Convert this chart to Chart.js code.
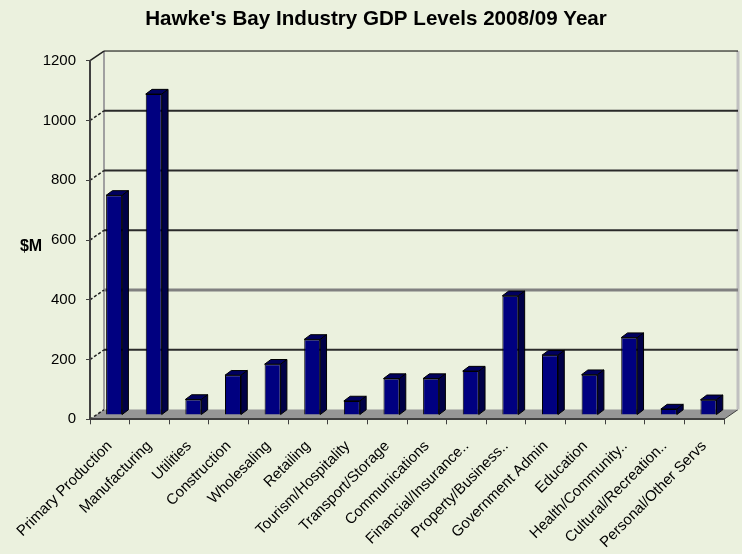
<!DOCTYPE html>
<html>
<head>
<meta charset="utf-8">
<title>Hawke's Bay Industry GDP Levels 2008/09 Year</title>
<script src="https://cdn.jsdelivr.net/npm/chart.js@4.4.1/dist/chart.umd.min.js"></script>
<style>
  html, body { margin: 0; padding: 0; background: #EBF1DE; }
  canvas { display: block; }
</style>
</head>
<body>
<canvas id="chart" width="742" height="554"></canvas>
<script>
// Industry categories and their GDP level ($M), 2008/09 year
const industries = [
  'Primary Production', 'Manufacturing', 'Utilities', 'Construction',
  'Wholesaling', 'Retailing', 'Tourism/Hospitality', 'Transport/Storage',
  'Communications', 'Financial/Insurance..', 'Property/Business..',
  'Government Admin', 'Education', 'Health/Community..',
  'Cultural/Recreation..', 'Personal/Other Servs'
];
const gdpMillions = [735, 1074, 52, 133, 170, 253, 47, 122, 122, 147, 399, 200, 135, 259, 20, 51];

const yMin = 0;
const yMax = 1200;
const yStep = 200;

const chartTitle = "Hawke's Bay Industry GDP Levels 2008/09 Year";
const yAxisLabel = '$M';

// Perspective offsets for the pseudo-3D walls, floor and column blocks
const WALL = { dx: 14, dy: -9.7 };
const BAR_SHIFT = { dx: 4.3, dy: -4.3 };
const BAR_DEPTH = { dx: 6.3, dy: -4.7 };

const FONT = '"Liberation Sans", Arial, sans-serif';
const BG = '#EBF1DE';

function gridStyle(value) {
  if (value === yMax) return { color: '#000000', width: 1 };
  if (value === 400) return { color: '#808080', width: 3 };
  return { color: '#2a2a2a', width: 2 };
}

const depthPlugin = {
  id: 'depth3d',
  beforeDraw(chart) {
    const { ctx, chartArea: a, scales: { y } } = chart;
    ctx.save();
    ctx.fillStyle = BG;
    ctx.fillRect(0, 0, chart.width, chart.height);

    // floor
    ctx.beginPath();
    ctx.moveTo(a.left, a.bottom);
    ctx.lineTo(a.right, a.bottom);
    ctx.lineTo(a.right + WALL.dx, a.bottom + WALL.dy);
    ctx.lineTo(a.left + WALL.dx, a.bottom + WALL.dy);
    ctx.closePath();
    ctx.fillStyle = '#969696';
    ctx.fill();
    ctx.strokeStyle = '#404040';
    ctx.lineWidth = 1;
    ctx.beginPath();
    ctx.moveTo(a.right, a.bottom);
    ctx.lineTo(a.right + WALL.dx, a.bottom + WALL.dy);
    ctx.stroke();

    // back wall edges
    const topBack = y.getPixelForValue(yMax) + WALL.dy;
    const floorBack = a.bottom + WALL.dy;
    ctx.strokeStyle = '#A0A0A0';
    ctx.lineWidth = 2;
    ctx.beginPath();
    ctx.moveTo(a.left + WALL.dx, topBack);
    ctx.lineTo(a.left + WALL.dx, floorBack);
    ctx.stroke();
    ctx.strokeStyle = '#C0C0C0';
    ctx.lineWidth = 3;
    ctx.beginPath();
    ctx.moveTo(a.right + WALL.dx, topBack);
    ctx.lineTo(a.right + WALL.dx, floorBack);
    ctx.stroke();

    // gridlines on the back wall and their links across the side wall
    y.ticks.forEach(t => {
      const py = y.getPixelForValue(t.value);
      const by = py + WALL.dy;
      if (t.value > yMin) {
        const s = gridStyle(t.value);
        ctx.strokeStyle = s.color;
        ctx.lineWidth = s.width;
        ctx.setLineDash([]);
        ctx.beginPath();
        ctx.moveTo(a.left + WALL.dx, by);
        ctx.lineTo(a.right + WALL.dx, by);
        ctx.stroke();
      }
      ctx.strokeStyle = '#202020';
      ctx.lineWidth = 1.5;
      ctx.setLineDash(t.value === yMax ? [] : [3, 2]);
      ctx.beginPath();
      ctx.moveTo(a.left, py);
      ctx.lineTo(a.left + WALL.dx, by);
      ctx.stroke();
    });
    ctx.restore();
  },
  beforeDatasetsDraw(chart) {
    chart.ctx.save();
    chart.ctx.translate(BAR_SHIFT.dx, BAR_SHIFT.dy);
  },
  afterDatasetsDraw(chart) {
    const ctx = chart.ctx;
    ctx.lineWidth = 1;
    ctx.strokeStyle = '#000000';
    ctx.lineJoin = 'round';
    chart.getDatasetMeta(0).data.forEach(bar => {
      const { x, y, base, width } = bar.getProps(['x', 'y', 'base', 'width'], true);
      const l = x - width / 2;
      const r = x + width / 2;
      // top face
      ctx.beginPath();
      ctx.moveTo(l, y);
      ctx.lineTo(r, y);
      ctx.lineTo(r + BAR_DEPTH.dx, y + BAR_DEPTH.dy);
      ctx.lineTo(l + BAR_DEPTH.dx, y + BAR_DEPTH.dy);
      ctx.closePath();
      ctx.fillStyle = '#00005E';
      ctx.fill();
      ctx.stroke();
      // side face
      ctx.beginPath();
      ctx.moveTo(r, y);
      ctx.lineTo(r + BAR_DEPTH.dx, y + BAR_DEPTH.dy);
      ctx.lineTo(r + BAR_DEPTH.dx, base + BAR_DEPTH.dy);
      ctx.lineTo(r, base);
      ctx.closePath();
      ctx.fillStyle = '#000046';
      ctx.fill();
      ctx.stroke();
    });
    ctx.restore();
  },
  afterDraw(chart) {
    const { ctx, chartArea: a } = chart;
    ctx.save();
    ctx.font = 'bold 16px ' + FONT;
    ctx.fillStyle = '#000000';
    ctx.textAlign = 'center';
    ctx.textBaseline = 'middle';
    ctx.fillText(yAxisLabel, 31, (a.top + a.bottom) / 2 + 7);
    ctx.restore();
  }
};

new Chart(document.getElementById('chart'), {
  type: 'bar',
  data: {
    labels: industries,
    datasets: [{
      label: yAxisLabel,
      data: gdpMillions,
      backgroundColor: '#000080',
      borderColor: '#000000',
      borderWidth: 1,
      categoryPercentage: 1,
      barPercentage: 0.404
    }]
  },
  options: {
    responsive: false,
    animation: false,
    devicePixelRatio: 1,
    layout: { padding: { left: 28, right: 18, top: 0, bottom: 0 } },
    plugins: {
      legend: { display: false },
      tooltip: { enabled: false },
      title: {
        display: true,
        text: chartTitle,
        color: '#000000',
        font: { family: FONT, size: 20.6, weight: 'bold', lineHeight: 1.2 },
        padding: { top: 6.6, bottom: 29.4 }
      }
    },
    scales: {
      x: {
        grid: { drawOnChartArea: false, drawTicks: true, tickLength: 5, color: '#404040', offset: true },
        border: { display: true, color: '#404040', width: 2 },
        ticks: {
          autoSkip: false, minRotation: 45, maxRotation: 45, padding: 13,
          color: '#000000', font: { family: FONT, size: 15 }
        },
        afterFit(scale) { scale.height = 134.7; }
      },
      y: {
        min: yMin,
        max: yMax,
        grid: { drawOnChartArea: false, drawTicks: true, tickLength: 4, color: '#404040' },
        border: { display: true, color: '#404040', width: 2 },
        ticks: {
          stepSize: yStep, padding: 10,
          color: '#000000', font: { family: FONT, size: 15 },
          callback: value => String(value)
        },
        afterFit(scale) { scale.width = 62; }
      }
    }
  },
  plugins: [depthPlugin]
});
</script>
</body>
</html>
